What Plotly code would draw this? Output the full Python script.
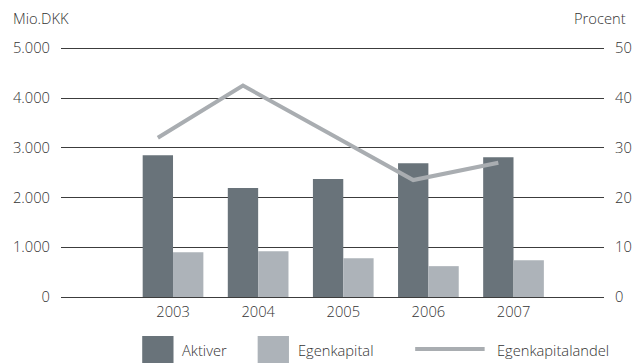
import plotly.graph_objects as go

# Data
years = ["2003", "2004", "2005", "2006", "2007"]
aktiver = [2850, 2190, 2370, 2690, 2810]          # Mio.DKK
egenkapital = [900, 920, 780, 620, 740]           # Mio.DKK
egenkapitalandel = [32.0, 42.5, 33.0, 23.5, 27.0]  # Procent

left_ticks = [0, 1000, 2000, 3000, 4000, 5000]
left_ticktext = ["0", "1.000", "2.000", "3.000", "4.000", "5.000"]
right_ticks = [0, 10, 20, 30, 40, 50]

C_AKT = "#69737a"
C_EGK = "#adb3b9"
C_LINE = "#a9adb1"
TXT = "#333333"
FONT = "Open Sans"
WEIGHT = 300
FS = 14.7

W, H = 644, 363
L, R, T, B = 61, 28, 47, 66
PW, PH = W - L - R, H - T - B

BARGAP = 0.287
half = (1 - BARGAP) / 4  # centre offset of each bar within a group

xs = list(range(len(years)))

fig = go.Figure()
fig.add_trace(go.Bar(x=xs, y=aktiver, name="Aktiver", marker=dict(color=C_AKT, line=dict(width=0))))
fig.add_trace(go.Bar(x=xs, y=egenkapital, name="Egenkapital", marker=dict(color=C_EGK, line=dict(width=0))))
fig.add_trace(go.Scatter(x=[x - half for x in xs], y=egenkapitalandel, name="Egenkapitalandel",
                         mode="lines", line=dict(color=C_LINE, width=4), yaxis="y2"))


def px(xp):
    return (xp - L) / PW


def py(yp):
    return (H - B - yp) / PH


# a little headroom above the top gridline keeps it from being clipped
fig.update_layout(
    width=W, height=H,
    margin=dict(l=L, r=R, t=T, b=B),
    paper_bgcolor="white", plot_bgcolor="white",
    barmode="group", bargap=BARGAP, bargroupgap=0,
    showlegend=False,
    font=dict(family=FONT, size=FS, color=TXT, weight=WEIGHT),
    xaxis=dict(range=[-1.316, 5.063], tickvals=xs, ticktext=years, showgrid=False,
               zeroline=False, showline=False, ticks="", ticklabelstandoff=4, fixedrange=True),
    yaxis=dict(range=[0, 5025], tickvals=left_ticks, ticktext=left_ticktext, showgrid=True,
               gridcolor="#3c3c3c", gridwidth=1, zeroline=True, zerolinecolor="#3c3c3c",
               zerolinewidth=1, showline=False, ticks="", ticklabelstandoff=10),
    yaxis2=dict(range=[0, 50.25], tickvals=right_ticks, overlaying="y", side="right",
                showgrid=False, zeroline=False, showline=False, ticks="", ticklabelstandoff=10),
)

annotations = [
    dict(text="Mio.DKK", x=px(10), y=py(18), xanchor="left", yanchor="middle"),
    dict(text="Procent", x=px(641), y=py(18), xanchor="right", yanchor="middle"),
    dict(text="Aktiver", x=px(183), y=py(350), xanchor="left", yanchor="middle"),
    dict(text="Egenkapital", x=px(301), y=py(350), xanchor="left", yanchor="middle"),
    dict(text="Egenkapitalandel", x=px(505), y=py(350), xanchor="left", yanchor="middle"),
]
for a in annotations:
    a.update(xref="paper", yref="paper", showarrow=False,
             font=dict(family=FONT, size=FS, color=TXT, weight=WEIGHT))
fig.update_layout(annotations=annotations)

shapes = [
    dict(type="rect", x0=px(144), x1=px(176), y0=py(363), y1=py(336), fillcolor=C_AKT, line=dict(width=0)),
    dict(type="rect", x0=px(262), x1=px(294), y0=py(363), y1=py(336), fillcolor=C_EGK, line=dict(width=0)),
    dict(type="line", x0=px(423), x1=px(494), y0=py(349), y1=py(349), line=dict(color=C_LINE, width=4)),
]
for s in shapes:
    s.update(xref="paper", yref="paper")
fig.update_layout(shapes=shapes)

fig.write_html("out.html")
